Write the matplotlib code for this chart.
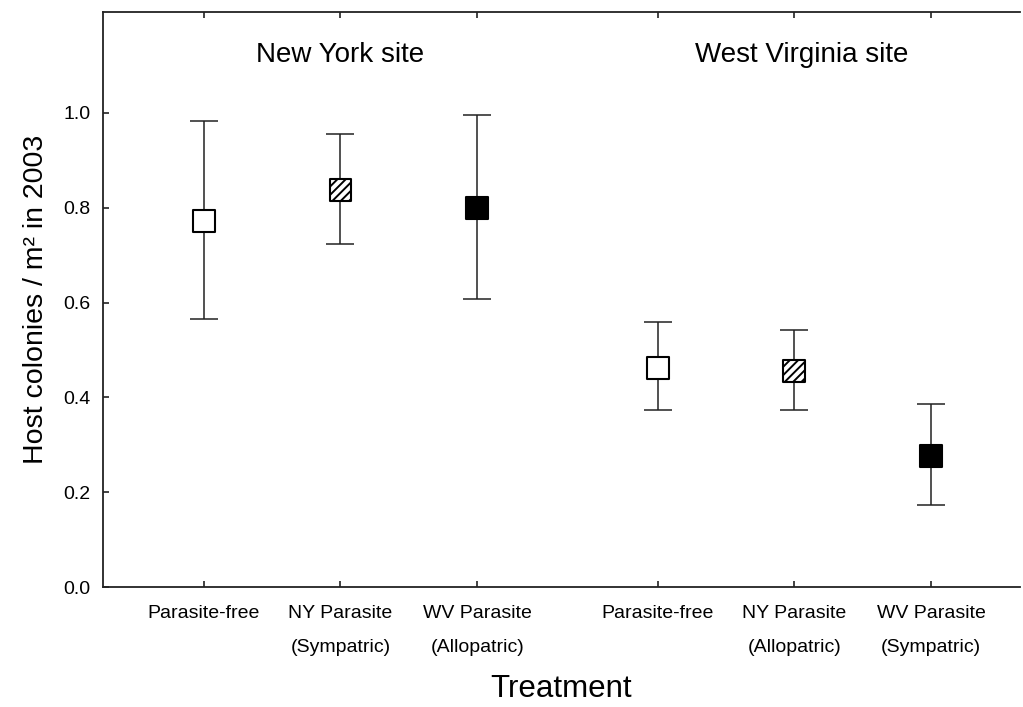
import matplotlib
matplotlib.use("Agg")
import matplotlib.pyplot as plt
from matplotlib.transforms import blended_transform_factory

plt.rcParams['font.family'] = ['Liberation Sans', 'DejaVu Sans']
plt.rcParams['hatch.linewidth'] = 1.4

# Treatment labels per site
categories = ["Parasite-free", "NY Parasite\n(Sympatric)", "WV Parasite\n(Allopatric)",
              "Parasite-free", "NY Parasite\n(Allopatric)", "WV Parasite\n(Sympatric)"]
site_titles = ["New York site", "West Virginia site"]

# Mean host colonies per m^2 and error bar limits
means = [0.772, 0.837, 0.800, 0.462, 0.455, 0.277]
upper = [0.983, 0.956, 0.996, 0.559, 0.543, 0.386]
lower = [0.566, 0.723, 0.608, 0.373, 0.373, 0.174]

# Marker style by parasite source: none, NY, WV
fills = ["white", "white", "black", "white", "white", "black"]
hatches = ["", "////", "", "", "////", ""]

positions = [1, 2, 3, 4.32, 5.32, 6.32]

fig = plt.figure(figsize=(10.23, 7.07), dpi=100)
ax = fig.add_axes([103 / 1023, 120 / 707, (1020 - 103) / 1023, (587 - 12) / 707])

line_col = "#222222"
for x, m, lo, hi in zip(positions, means, lower, upper):
    ax.errorbar([x], [m], yerr=[[m - lo], [hi - m]], fmt="none",
                ecolor=line_col, elinewidth=1.1, capsize=10, capthick=1.1, zorder=2)

for x, m, fc, h in zip(positions, means, fills, hatches):
    ax.scatter([x], [m], s=250, marker="s", facecolors=fc, edgecolors="black",
               linewidths=1.5, hatch=h, zorder=3)

ax.set_xlim(0.263, 6.97)
ax.set_ylim(0, 1.213)
ax.set_yticks([0.0, 0.2, 0.4, 0.6, 0.8, 1.0])
ax.set_yticklabels(["0.0", "0.2", "0.4", "0.6", "0.8", "1.0"], fontsize=14)
ax.set_xticks(positions)
ax.set_xticklabels(categories, fontsize=14, linespacing=2.3, va="top")

ax.tick_params(axis="x", direction="in", length=4, width=1.2, top=True, pad=13, colors=line_col,
               labelcolor="black")
ax.tick_params(axis="y", direction="in", length=4, width=1.2, pad=9, colors=line_col,
               labelcolor="black")

ax.spines["right"].set_visible(False)
for side in ["left", "bottom", "top"]:
    ax.spines[side].set_color(line_col)
    ax.spines[side].set_linewidth(1.3)

ax.set_ylabel("Host colonies / m² in 2003", fontsize=20.5, labelpad=10)
ax.set_xlabel("Treatment", fontsize=22.5, labelpad=13)

trans = blended_transform_factory(ax.transData, ax.transAxes)
ax.text(2, 0.925, site_titles[0], transform=trans, ha="center", va="center", fontsize=20)
ax.text(5.37, 0.925, site_titles[1], transform=trans, ha="center", va="center", fontsize=20)

fig.savefig("out.png", dpi=100)
